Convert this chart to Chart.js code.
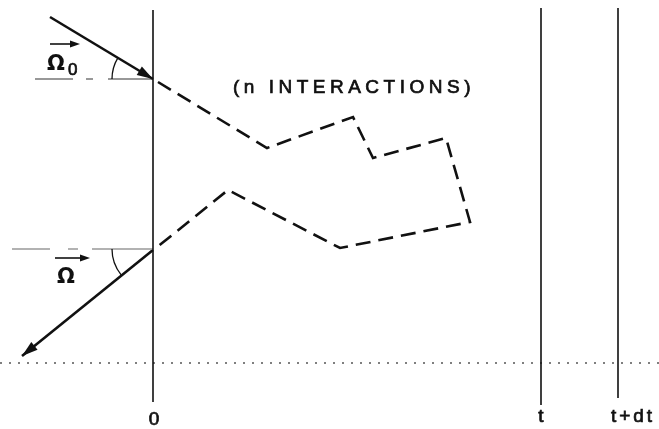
<!DOCTYPE html>
<html>
<head>
<meta charset="utf-8">
<script src="https://cdn.jsdelivr.net/npm/chart.js@4/dist/chart.umd.min.js"></script>
<style>
  html, body { margin: 0; padding: 0; background: #fff; }
</style>
</head>
<body>
<canvas id="myChart" width="659" height="429"></canvas>
<script>
// boundary planes: 0, t, t+dt
const boundaryX = [153, 541, 618];
const boundaryTop = [10, 8, 8];
const boundaryBottom = [402, 405, 398];

// incoming / outgoing directions
const incomingX = [50, 153];
const incomingY = [17, 79];
const outgoingX = [153, 22];
const outgoingY = [250, 356];

// reference horizontals at the entry/exit points
const refInX = [35, 153];
const refInY = [79, 79];
const refOutX = [12, 153];
const refOutY = [249, 249];

// dotted ground line
const groundX = [0, 659];
const groundY = [363, 363];

// random walk inside the slab (n interactions)
const pathX = [158, 267, 353, 373, 446, 470, 340, 228, 156];
const pathY = [82, 148, 117, 158, 138, 222, 248, 190, 248];

// angle arcs: centre, radius, start/end angle (deg, screen coords)
const arcCx = [153, 153];
const arcCy = [79, 249];
const arcR = [41, 41];
const arcStart = [180, 141];
const arcEnd = [211, 180];

// text labels
const labelText = ["0", "t", "t+dt", "(n INTERACTIONS)"];
const labelX = [154, 541, 633, 354];
const labelY = [425, 422, 422, 93];

const toPts = (xs, ys) => xs.map((x, i) => ({ x: x, y: ys[i] }));

const lineSet = (data, extra) => Object.assign({
  data: data,
  showLine: true,
  borderColor: "#111",
  borderWidth: 1.6,
  pointRadius: 0,
  fill: false,
  tension: 0,
}, extra || {});

const buildDatasets = () => {
  const sets = boundaryX.map((x, i) =>
    lineSet([{ x: x, y: boundaryTop[i] }, { x: x, y: boundaryBottom[i] }])
  );
  sets.push(lineSet(toPts(groundX, groundY), { borderColor: "#555", borderWidth: 1.3, borderDash: [2, 7] }));
  sets.push(lineSet(toPts(refInX, refInY), { borderColor: "#333", borderWidth: 1.2, borderDash: [38, 13, 7, 15, 60] }));
  sets.push(lineSet(toPts(refOutX, refOutY), { borderColor: "#999", borderWidth: 1.5, borderDash: [38, 18, 10, 14, 70] }));
  sets.push(lineSet(toPts(pathX, pathY), { borderWidth: 2.6, borderDash: [15, 8] }));
  sets.push(lineSet(toPts(incomingX, incomingY), { borderWidth: 2.6, arrow: true }));
  sets.push(lineSet(toPts(outgoingX, outgoingY), { borderWidth: 2.6, arrow: true }));
  return sets;
};

const drawArrowHead = (ctx, x0, y0, x1, y1, len, half) => {
  const a = Math.atan2(y1 - y0, x1 - x0);
  ctx.beginPath();
  ctx.moveTo(x1, y1);
  ctx.lineTo(x1 - len * Math.cos(a) + half * Math.sin(a), y1 - len * Math.sin(a) - half * Math.cos(a));
  ctx.lineTo(x1 - len * Math.cos(a) - half * Math.sin(a), y1 - len * Math.sin(a) + half * Math.cos(a));
  ctx.closePath();
  ctx.fill();
};

const diagramPlugin = {
  id: "diagram",
  afterDatasetsDraw(chart) {
    const ctx = chart.ctx;
    const xs = chart.scales.x;
    const ys = chart.scales.y;
    ctx.save();
    ctx.fillStyle = "#111";
    ctx.strokeStyle = "#111";

    // arrowheads at the end of flagged datasets
    chart.data.datasets.forEach((ds, i) => {
      if (!ds.arrow) return;
      const pts = chart.getDatasetMeta(i).data;
      const p0 = pts[pts.length - 2];
      const p1 = pts[pts.length - 1];
      drawArrowHead(ctx, p0.x, p0.y, p1.x, p1.y, 16, 5);
    });

    // angle arcs
    ctx.lineWidth = 1.3;
    arcCx.forEach((cx, i) => {
      const px = xs.getPixelForValue(cx);
      const py = ys.getPixelForValue(arcCy[i]);
      const r = xs.getPixelForValue(cx + arcR[i]) - px;
      ctx.beginPath();
      ctx.arc(px, py, r, (arcStart[i] * Math.PI) / 180, (arcEnd[i] * Math.PI) / 180);
      ctx.stroke();
    });

    // text labels (regular face, thickened a little like the lettering)
    ctx.textAlign = "center";
    ctx.textBaseline = "alphabetic";
    ctx.lineWidth = 0.7;
    labelText.forEach((t, i) => {
      const px = xs.getPixelForValue(labelX[i]);
      const py = ys.getPixelForValue(labelY[i]);
      if (i === 3) {
        ctx.font = "19px 'Liberation Sans', Arial, sans-serif";
        ctx.letterSpacing = "4.5px";
      } else {
        ctx.font = "19px 'Liberation Sans', Arial, sans-serif";
        ctx.letterSpacing = i === 2 ? "3px" : "0px";
      }
      ctx.fillText(t, px, py);
      ctx.strokeText(t, px, py);
    });
    ctx.letterSpacing = "0px";

    // vector symbols with over-arrows
    ctx.textAlign = "left";
    ctx.font = "bold 21px 'DejaVu Sans', sans-serif";
    ctx.fillText("\u03A9", xs.getPixelForValue(47), ys.getPixelForValue(70));
    ctx.font = "17px 'Liberation Sans', sans-serif";
    ctx.fillText("0", xs.getPixelForValue(68), ys.getPixelForValue(75));
    ctx.strokeText("0", xs.getPixelForValue(68), ys.getPixelForValue(75));
    ctx.font = "bold 21px 'DejaVu Sans', sans-serif";
    ctx.fillText("\u03A9", xs.getPixelForValue(57), ys.getPixelForValue(283));

    const overArrows = [[50, 80, 44], [55, 90, 258]];
    ctx.lineWidth = 1.6;
    overArrows.forEach(([a, b, y]) => {
      const x0 = xs.getPixelForValue(a);
      const x1 = xs.getPixelForValue(b);
      const py = ys.getPixelForValue(y);
      ctx.beginPath();
      ctx.moveTo(x0, py);
      ctx.lineTo(x1 - 4, py);
      ctx.stroke();
      drawArrowHead(ctx, x0, py, x1, py, 10, 3.5);
    });
    ctx.restore();
  },
};

const config = {
  type: "scatter",
  data: { datasets: buildDatasets() },
  options: {
    responsive: false,
    animation: false,
    layout: { padding: 0 },
    plugins: {
      legend: { display: false },
      tooltip: { enabled: false },
    },
    scales: {
      x: { type: "linear", min: 0, max: 659, display: false },
      y: { type: "linear", min: 0, max: 429, reverse: true, display: false },
    },
  },
  plugins: [diagramPlugin],
};

const myChart = new Chart(document.getElementById("myChart"), config);
</script>
</body>
</html>
